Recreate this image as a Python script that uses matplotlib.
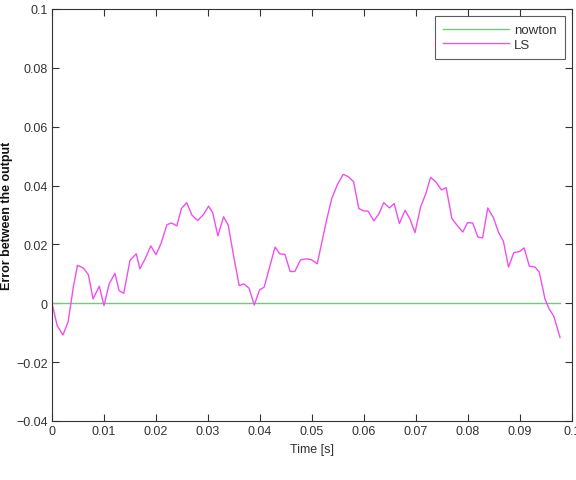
import matplotlib
matplotlib.use("Agg")
import matplotlib.pyplot as plt

t_ls = [0.0000, 0.0010, 0.0021, 0.0031, 0.0041, 0.0049, 0.0060, 0.0070, 0.0079, 0.0091,
        0.0100, 0.0110, 0.0121, 0.0129, 0.0138, 0.0150, 0.0162, 0.0169, 0.0179, 0.0190,
        0.0200, 0.0210, 0.0221, 0.0230, 0.0240, 0.0249, 0.0259, 0.0269, 0.0280, 0.0291,
        0.0301, 0.0309, 0.0319, 0.0330, 0.0339, 0.0349, 0.0360, 0.0369, 0.0379, 0.0389,
        0.0399, 0.0408, 0.0418, 0.0429, 0.0438, 0.0448, 0.0458, 0.0467, 0.0478, 0.0490,
        0.0499, 0.0510, 0.0519, 0.0528, 0.0538, 0.0549, 0.0560, 0.0570, 0.0580, 0.0590,
        0.0599, 0.0608, 0.0619, 0.0629, 0.0638, 0.0649, 0.0658, 0.0668, 0.0679, 0.0688,
        0.0698, 0.0709, 0.0719, 0.0728, 0.0738, 0.0749, 0.0758, 0.0769, 0.0779, 0.0790,
        0.0799, 0.0809, 0.0819, 0.0828, 0.0838, 0.0849, 0.0859, 0.0868, 0.0878, 0.0888,
        0.0899, 0.0908, 0.0918, 0.0929, 0.0937, 0.0948, 0.0956, 0.0965, 0.0977]
e_ls = [0.0000, -0.0076, -0.0108, -0.0063, 0.0055, 0.0129, 0.0120, 0.0097, 0.0015, 0.0058,
        -0.0008, 0.0066, 0.0102, 0.0043, 0.0034, 0.0146, 0.0168, 0.0117, 0.0151, 0.0195,
        0.0165, 0.0205, 0.0267, 0.0273, 0.0263, 0.0322, 0.0342, 0.0300, 0.0281, 0.0301,
        0.0330, 0.0308, 0.0229, 0.0294, 0.0265, 0.0163, 0.0060, 0.0066, 0.0051, -0.0006,
        0.0045, 0.0055, 0.0120, 0.0191, 0.0168, 0.0166, 0.0108, 0.0108, 0.0148, 0.0151,
        0.0148, 0.0134, 0.0208, 0.0282, 0.0356, 0.0404, 0.0438, 0.0430, 0.0413, 0.0322,
        0.0314, 0.0313, 0.0280, 0.0305, 0.0342, 0.0324, 0.0339, 0.0271, 0.0316, 0.0288,
        0.0240, 0.0328, 0.0373, 0.0428, 0.0413, 0.0385, 0.0393, 0.0288, 0.0265, 0.0242,
        0.0274, 0.0273, 0.0225, 0.0222, 0.0324, 0.0290, 0.0240, 0.0211, 0.0123, 0.0172,
        0.0176, 0.0188, 0.0126, 0.0123, 0.0106, 0.0015, -0.0019, -0.0044, -0.0116]

t_newton = [0.0, 0.0977]
e_newton = [0.0, 0.0]

xticks = [0, 0.01, 0.02, 0.03, 0.04, 0.05, 0.06, 0.07, 0.08, 0.09, 0.1]
xticklabels = ["0", "0.01", "0.02", "0.03", "0.04", "0.05", "0.06", "0.07", "0.08", "0.09", "0.1"]
yticks = [-0.04, -0.02, 0, 0.02, 0.04, 0.06, 0.08, 0.1]
yticklabels = ["\u22120.04", "\u22120.02", "0", "0.02", "0.04", "0.06", "0.08", "0.1"]

plt.rcParams['font.family'] = ['Liberation Sans', 'DejaVu Sans']

fig = plt.figure(figsize=(5.76, 4.81), dpi=100)
ax = fig.add_axes([52/576, 1 - 422/481, 520/576, 412/481])

ax.plot(t_newton, e_newton, color='#55e055', lw=1.0, label='nowton')
ax.plot(t_ls, e_ls, color='#ee50ee', lw=1.0, label='LS')

ax.set_xlim(0, 0.1)
ax.set_ylim(-0.04, 0.1)
ax.set_xticks(xticks)
ax.set_xticklabels(xticklabels)
ax.set_yticks(yticks)
ax.set_yticklabels(yticklabels)
ax.tick_params(direction='in', top=True, right=True, length=5, width=0.8,
               labelsize=9, labelcolor='#333333', color='#333333', pad=3)
for s in ax.spines.values():
    s.set_color('#333333')
    s.set_linewidth(0.8)

ax.set_xlabel('Time [s]', fontsize=9, color='#333333', labelpad=4)
ax.set_ylabel('Error between the output', fontsize=9, color='#111111',
              fontweight='bold', labelpad=2)

leg = ax.legend(loc='upper right', fontsize=9.5, frameon=True, fancybox=False,
                edgecolor='#333333', handlelength=5.0, borderaxespad=0.55,
                labelspacing=0.15, borderpad=0.6, handletextpad=0.4)
leg.get_frame().set_linewidth(0.8)
for txt in leg.get_texts():
    txt.set_color('#333333')

fig.savefig('out.png', dpi=100, facecolor='white')
